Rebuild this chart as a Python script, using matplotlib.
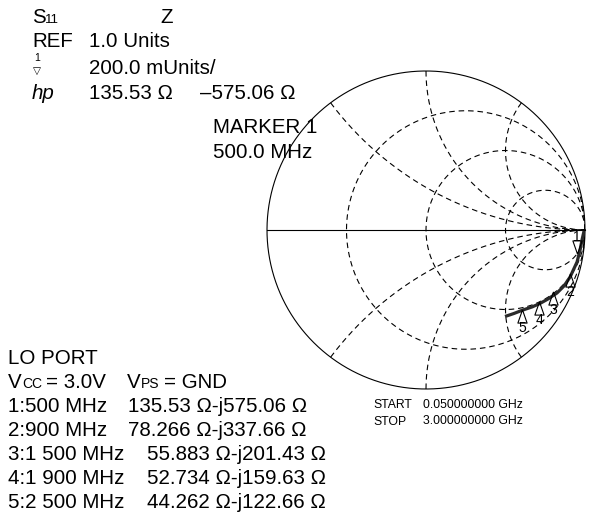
import numpy as np
import matplotlib
matplotlib.use("Agg")
from matplotlib import pyplot as plt
from matplotlib import transforms

plt.rcParams["font.family"] = ["Liberation Sans", "DejaVu Sans"]

trace_re = [0.994, 0.981, 0.969, 0.950, 0.906, 0.868, 0.824, 0.767, 0.717, 0.667, 0.610, 0.553, 0.497]
trace_im = [-0.006, -0.063, -0.126, -0.201, -0.296, -0.352, -0.396, -0.434, -0.462, -0.484, -0.503, -0.525, -0.544]

# markers on the trace
marker_ids = ["1", "2", "3", "4", "5"]
marker_re = [0.950, 0.906, 0.799, 0.711, 0.604]
marker_im = [-0.130, -0.289, -0.403, -0.465, -0.516]

marker_freq = ["1:500 MHz", "2:900 MHz", "3:1 500 MHz", "4:1 900 MHz", "5:2 500 MHz"]
marker_z = ["135.53 Ω-j575.06 Ω", "78.266 Ω-j337.66 Ω", "55.883 Ω-j201.43 Ω",
            "52.734 Ω-j159.63 Ω", "44.262 Ω-j122.66 Ω"]

# smith grid
grid_r = [1 / 3, 1, 3]
grid_x = [0.5, 1, 2]

W, H = 589, 518
BIG = 14.8
fig = plt.figure(figsize=(W / 100, H / 100), dpi=100)

# smith chart axes: unit circle centred at (426, 230) px, radius 159 px
cx, cy, R = 426, 230, 159
sm = fig.add_axes([(cx - R) / W, (H - cy - R) / H, 2 * R / W, 2 * R / H])
sm.set_xlim(-1, 1)
sm.set_ylim(-1, 1)
sm.axis("off")

dash = (0, (5, 3.5))
t = np.linspace(0, 2 * np.pi, 500)
sm.plot(np.cos(t), np.sin(t), color="black", lw=0.8, clip_on=False)
sm.plot([-1, 1], [0, 0], color="black", lw=0.8, clip_on=False)

for r in grid_r:
    c = r / (1 + r)
    rad = 1 / (1 + r)
    sm.plot(c + rad * np.cos(t), rad * np.sin(t), color="black", lw=0.8, ls=dash)

rr = np.tan(np.linspace(0, np.pi / 2 - 1e-4, 600))
for x in grid_x:
    for s in (1, -1):
        z = rr + 1j * s * x
        g = (z - 1) / (z + 1)
        sm.plot(g.real, g.imag, color="black", lw=0.8, ls=dash)

sm.plot(trace_re, trace_im, color="#2a2a2a", lw=2.3, solid_capstyle="butt")

tri_up = [(0, 1), (-0.7, -1), (0.7, -1), (0, 1)]
tri_dn = [(0, -1), (-0.7, 1), (0.7, 1), (0, -1)]
for i in range(len(marker_ids)):
    if i == 0:
        mk, dy, ly = tri_dn, 4, 14
    else:
        mk, dy, ly = tri_up, -4, -16
    tr = transforms.offset_copy(sm.transData, fig=fig, x=0, y=dy, units="dots")
    sm.plot([marker_re[i]], [marker_im[i]], marker=mk, ms=9.5, mfc="none",
            mec="black", mew=0.8, transform=tr, clip_on=False)
    trl = transforms.offset_copy(sm.transData, fig=fig, x=0, y=ly, units="dots")
    sm.text(marker_re[i], marker_im[i], marker_ids[i], transform=trl, fontsize=10,
            ha="center", va="center")

# text in pixel coordinates
bg = fig.add_axes([0, 0, 1, 1], zorder=-1)
bg.set_xlim(0, W)
bg.set_ylim(H, 0)
bg.axis("off")

def txt(x, y, s, size=BIG, **kw):
    bg.text(x, y, s, fontsize=size, va="baseline", ha="left", **kw)

txt(32, 23, "S")
txt(45, 23, "11", size=9.5)
txt(160, 23, "Z")
txt(32, 47, "REF")
txt(89, 47, "1.0 Units")
bg.text(37, 61, "1", fontsize=7.5, ha="center", va="baseline")
bg.text(37, 74, "▽", fontsize=7.5, ha="center", va="baseline", family="DejaVu Sans")
txt(89, 74, "200.0 mUnits/")
txt(32, 99, "hp", style="italic")
txt(89, 99, "135.53 Ω")
txt(200, 99, "–575.06 Ω")
txt(213, 133, "MARKER 1")
txt(213, 158, "500.0 MHz")

txt(8, 364, "LO PORT")
txt(8, 388, "V")
txt(22, 388, "CC", size=10)
txt(46, 388, "= 3.0V")
txt(127, 388, "V")
txt(141, 388, "PS", size=10)
txt(164, 388, "= GND")
for i in range(len(marker_freq)):
    y = 412 + 24 * i
    txt(8, y, marker_freq[i])
    txt(128 if i < 2 else 147, y, marker_z[i])

txt(373, 408, "START", size=8.8)
txt(423, 408, "0.050000000 GHz", size=8.8)
txt(373, 425, "STOP", size=8.8)
txt(423, 424, "3.000000000 GHz", size=8.8)

fig.savefig("out.png", dpi=100)
